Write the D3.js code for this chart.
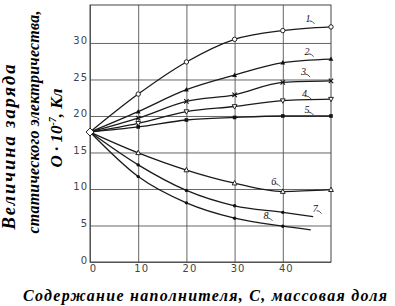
<!DOCTYPE html>
<html>
<head>
<meta charset="utf-8">
<script src="https://cdn.jsdelivr.net/npm/d3@7"></script>
<style>
  body { margin: 0; background: #fff; }
  svg { display: block; }
  .tick text { font-family: "DejaVu Sans", sans-serif; font-size: 10px; fill: #444; letter-spacing: 1px; }
  .ttl { font-family: "Liberation Serif", serif; font-weight: bold; font-style: italic; fill: #000; }
</style>
</head>
<body>
<div id="app"></div>
<script>
// values: Q (x10^-7 Кл) against filler content C
const content = [0, 10, 20, 30, 40, 50];
const q1 = [17.8, 23.0, 27.4, 30.5, 31.7, 32.2];
const q2 = [17.8, 20.6, 23.6, 25.6, 27.3, 27.8];
const q3 = [17.8, 19.7, 22.0, 22.9, 24.6, 24.8];
const q4 = [17.8, 19.0, 20.6, 21.3, 22.1, 22.3];
const q5 = [17.8, 18.5, 19.45, 19.8, 20.0, 20.0];
const q6 = [17.8, 14.95, 12.6, 10.8, 9.65, 9.9];
const q7 = [17.8, 13.3, 9.8, 7.7, 6.8, 6.2];
const q8 = [17.8, 11.7, 8.1, 6.0, 4.9, 4.4];
// where each curve stops (7 and 8 end short of 50, without a marker)
const lineEnd = [50, 50, 50, 50, 50, 50, 46.3, 45.8];
const curveNames = ['1', '2', '3', '4', '5', '6', '7', '8'];
const xTicks = [0, 10, 20, 30, 40];
const yTicks = [0, 5, 10, 15, 20, 25, 30];

const series = [q1, q2, q3, q4, q5, q6, q7, q8];
const marks = ['circle', 'triangle', 'cross', 'triDown', 'square', 'triOpen', 'dot', 'dot'];

const W = 395, H = 306;
const x = d3.scaleLinear().domain([0, 50]).range([90, 331]);
const y = d3.scaleLinear().domain([0, 35.2]).range([262, 5]);

const svg = d3.select('#app').append('svg').attr('width', W).attr('height', H);

// grid
svg.append('g').attr('transform', 'translate(0,262)')
  .call(d3.axisBottom(x).tickValues(xTicks).tickSize(-257).tickPadding(3))
  .call(g => g.select('.domain').remove())
  .call(g => g.selectAll('.tick line').attr('stroke', '#555').attr('stroke-width', 0.9))
  .call(g => g.selectAll('.tick text').attr('dx', '0.3em'));

svg.append('g').attr('transform', 'translate(90,0)')
  .call(d3.axisLeft(y).tickValues(yTicks).tickSize(-241).tickPadding(2))
  .call(g => g.select('.domain').remove())
  .call(g => g.selectAll('.tick line').attr('stroke', '#555').attr('stroke-width', 0.9))
  .call(g => g.selectAll('.tick text').attr('dy', '0.1em'));

svg.append('rect').attr('x', x(0)).attr('y', y(35.2))
  .attr('width', x(50) - x(0)).attr('height', y(0) - y(35.2))
  .attr('fill', 'none').attr('stroke', '#444').attr('stroke-width', 1);

const line = d3.line().x(d => x(d[0])).y(d => y(d[1])).curve(d3.curveMonotoneX);

series.forEach((vals, i) => {
  const pts = vals.map((v, j) => [j === vals.length - 1 ? lineEnd[i] : content[j], v]);
  svg.append('path').attr('d', line(pts))
    .attr('fill', 'none').attr('stroke', '#1a1a1a').attr('stroke-width', 1.3);

  const g = svg.append('g');
  pts.slice(1).forEach(p => {
    if (content.indexOf(p[0]) < 0) return;
    const cx = x(p[0]), cy = y(p[1]);
    const m = marks[i];
    if (m === 'circle') g.append('circle').attr('cx', cx).attr('cy', cy).attr('r', 2.2).attr('fill', '#fff').attr('stroke', '#222');
    else if (m === 'triangle') g.append('path').attr('d', `M${cx},${cy - 2.6}L${cx + 2.4},${cy + 1.8}L${cx - 2.4},${cy + 1.8}Z`).attr('fill', '#111');
    else if (m === 'triOpen') g.append('path').attr('d', `M${cx},${cy - 2.6}L${cx + 2.4},${cy + 1.8}L${cx - 2.4},${cy + 1.8}Z`).attr('fill', '#fff').attr('stroke', '#222');
    else if (m === 'triDown') g.append('path').attr('d', `M${cx},${cy + 2.6}L${cx + 2.4},${cy - 1.8}L${cx - 2.4},${cy - 1.8}Z`).attr('fill', '#fff').attr('stroke', '#222');
    else if (m === 'cross') g.append('path').attr('d', `M${cx - 2.2},${cy - 2.2}L${cx + 2.2},${cy + 2.2}M${cx + 2.2},${cy - 2.2}L${cx - 2.2},${cy + 2.2}`).attr('stroke', '#111').attr('stroke-width', 1.1);
    else if (m === 'square') g.append('rect').attr('x', cx - 1.8).attr('y', cy - 1.8).attr('width', 3.6).attr('height', 3.6).attr('fill', '#111');
    else g.append('circle').attr('cx', cx).attr('cy', cy).attr('r', 1.7).attr('fill', '#111');
  });
});

// origin marker
svg.append('path')
  .attr('d', `M${x(0)},${y(17.8) - 4}L${x(0) + 4},${y(17.8)}L${x(0)},${y(17.8) + 4}L${x(0) - 4},${y(17.8)}Z`)
  .attr('fill', '#fff').attr('stroke', '#222');

// curve numbers with small leader hooks
const labelPos = [[44.7, 32.9], [44.5, 28.4], [43.8, 25.6], [44, 22.6], [44.5, 20.4], [37.6, 10.6], [46.2, 6.9], [36, 5.9]];
labelPos.forEach((p, i) => {
  const lx = x(p[0]), ly = y(p[1]);
  svg.append('text').attr('x', lx).attr('y', ly)
    .attr('font-family', 'Liberation Serif, serif').attr('font-style', 'italic')
    .attr('font-size', 10).attr('fill', '#111').text(curveNames[i]);
  svg.append('path').attr('d', `M${lx + 4},${ly - 1}q3,0 5,3`)
    .attr('fill', 'none').attr('stroke', '#222').attr('stroke-width', 0.8);
});

// titles
svg.append('text').attr('class', 'ttl').attr('font-size', 16)
  .attr('x', 205).attr('y', 301).attr('text-anchor', 'middle')
  .attr('textLength', 364).attr('lengthAdjust', 'spacing')
  .text('Содержание наполнителя, С, массовая доля');

const yt = [
  { t: 'Величина заряда', cx: 15, cy: 147, len: 165, fs: 18.5 },
  { t: 'статического электричества,', cx: 39, cy: 122, len: 223, fs: 16 }
];
yt.forEach(d => {
  svg.append('text').attr('class', 'ttl').attr('font-size', d.fs)
    .attr('transform', `translate(${d.cx},${d.cy}) rotate(-90)`)
    .attr('text-anchor', 'middle')
    .attr('textLength', d.len).attr('lengthAdjust', 'spacing')
    .text(d.t);
});
const t3 = svg.append('text').attr('class', 'ttl').attr('font-size', 17)
  .attr('transform', 'translate(62,128) rotate(-90)').attr('text-anchor', 'middle');
t3.append('tspan').text('О · 10');
t3.append('tspan').attr('font-size', 10).attr('dy', -6).text('-7');
t3.append('tspan').attr('dy', 6).text(', Кл');
</script>
</body>
</html>
